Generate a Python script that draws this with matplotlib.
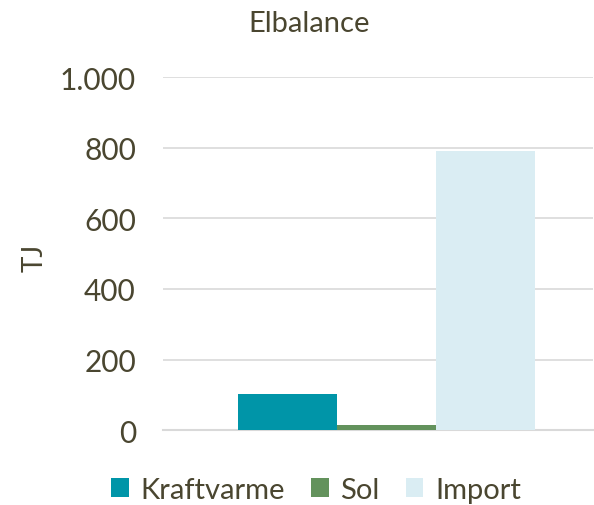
import matplotlib
matplotlib.use("Agg")
import matplotlib.pyplot as plt
from matplotlib.ticker import FuncFormatter
from matplotlib.patches import Patch

# data
categories = ["Kraftvarme", "Sol", "Import"]
values = [103, 14, 791]
colors = ["#0095A8", "#63925C", "#DAEDF3"]
yticks = [0, 200, 400, 600, 800, 1000]

txt = "#4A4630"
plt.rcParams['font.family'] = ['Lato', 'DejaVu Sans']

fig = plt.figure(figsize=(5.94, 5.06), dpi=100)
ax = fig.add_axes([0.2744, 0.1482, 0.7236, 0.6967])

x = list(range(len(categories)))
ax.bar(x, values, width=1.0, color=colors, zorder=3)

ax.set_xlim(-1.258, 3.086)
ax.set_ylim(0, 1000)
ax.set_yticks(yticks)
ax.yaxis.set_major_formatter(FuncFormatter(lambda v, p: f"{int(v):,}".replace(",", ".")))
ax.set_xticks([])
ax.grid(axis="y", color="#D9D9D9", linewidth=1.2, zorder=0)
for s in ["top", "right", "left"]:
    ax.spines[s].set_visible(False)
ax.spines["bottom"].set_color("#D9D9D9")
ax.spines["bottom"].set_linewidth(1.5)
ax.tick_params(axis="y", length=0, pad=19.5, labelsize=21.5, labelcolor=txt)

fig.text(0.059, 0.49, "TJ", rotation=90, ha="center", va="center", fontsize=20, color=txt)
fig.text(0.52, 0.953, "Elbalance", ha="center", va="center", fontsize=21, color=txt)

handles = [Patch(facecolor=c) for c in colors]
fig.legend(handles, categories, loc="center", bbox_to_anchor=(0.532, 0.03), ncol=3,
           frameon=False, fontsize=21, labelcolor=txt, handlelength=0.6, handleheight=0.6,
           handletextpad=0.4, columnspacing=0.9)

fig.savefig("out.png", dpi=100)
